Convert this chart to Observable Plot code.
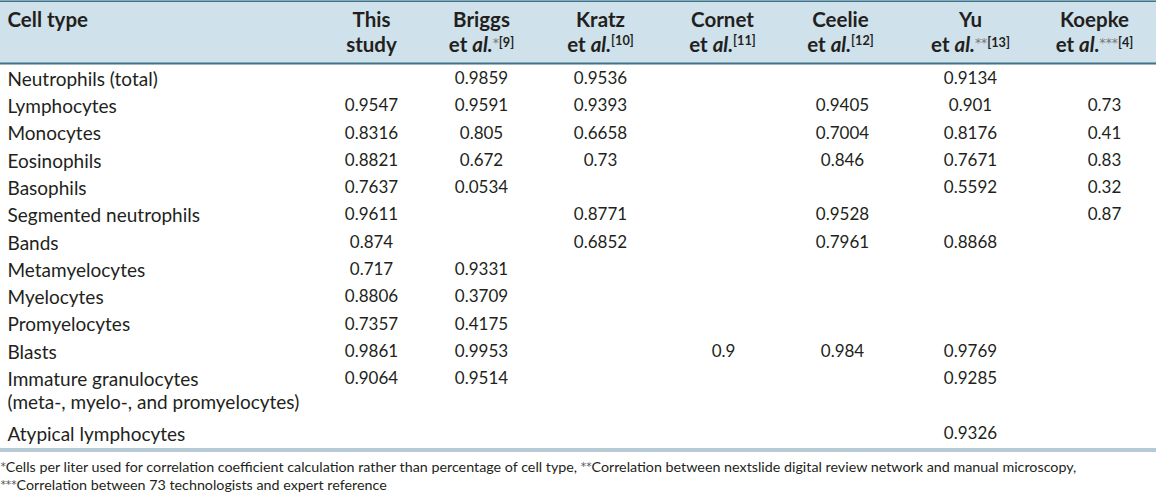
<!DOCTYPE html>
<html><head><meta charset="utf-8">
<script src="https://cdn.jsdelivr.net/npm/d3@7"></script>
<script src="https://cdn.jsdelivr.net/npm/@observablehq/plot@0.6"></script>
<style>body{margin:0;background:#fff} svg{display:block}</style>
</head><body><div id="chart"></div>
<script>
// ---- data ----
const cellTypes = [
  "Neutrophils (total)", "Lymphocytes", "Monocytes", "Eosinophils", "Basophils",
  "Segmented neutrophils", "Bands", "Metamyelocytes", "Myelocytes", "Promyelocytes",
  "Blasts", "Immature granulocytes\n(meta-, myelo-, and promyelocytes)", "Atypical lymphocytes"
];
const thisStudy = [null, 0.9547, 0.8316, 0.8821, 0.7637, 0.9611, 0.874, 0.717, 0.8806, 0.7357, 0.9861, 0.9064, null];
const briggs    = [0.9859, 0.9591, 0.805, 0.672, 0.0534, null, null, 0.9331, 0.3709, 0.4175, 0.9953, 0.9514, null];
const kratz     = [0.9536, 0.9393, 0.6658, 0.73, null, 0.8771, 0.6852, null, null, null, null, null, null];
const cornet    = [null, null, null, null, null, null, null, null, null, null, 0.9, null, null];
const ceelie    = [null, 0.9405, 0.7004, 0.846, null, 0.9528, 0.7961, null, null, null, 0.984, null, null];
const yu        = [0.9134, 0.901, 0.8176, 0.7671, 0.5592, null, 0.8868, null, null, null, 0.9769, 0.9285, 0.9326];
const koepke    = [null, 0.73, 0.41, 0.83, 0.32, 0.87, null, null, null, null, null, null, null];
const series = [thisStudy, briggs, kratz, cornet, ceelie, yu, koepke];

const headerTitle = "Cell type";
const headerLine1 = ["This", "Briggs", "Kratz", "Cornet", "Ceelie", "Yu", "Koepke"];
const headerLine2 = ["study", "et al.", "et al.", "et al.", "et al.", "et al.", "et al."];
const headerMarks = ["", "*", "", "", "", "**", "***"];
const headerRefs  = ["", "[9]", "[10]", "[11]", "[12]", "[13]", "[4]"];

const footnotes = [
  "*Cells per liter used for correlation coefficient calculation rather than percentage of cell type, **Correlation between nextslide digital review network and manual microscopy,",
  "***Correlation between 73 technologists and expert reference"
];

// ---- layout ----
const W = 1156, H = 496;
const colX = [371, 481, 600, 723, 842, 970, 1104];
const headerX = [371, 481, 600, 722, 840, 970, 1094];
const rowStep = 27.3, row0 = 78, lineGap = 22.8;
const rowSlot = [0,1,2,3,4,5,6,7,8,9,10,11,13];
const rowY = rowSlot.map(s => row0 + s * rowStep);
const ink = "#231f20";
const font = "Lato, 'Open Sans', sans-serif";
const starFont = "'DejaVu Sans', sans-serif";

const labelRows = cellTypes.map((t, i) => ({t, y: rowY[i] + (t.split("\n").length - 1) * lineGap / 2}));
const cells = [];
series.forEach((s, j) => s.forEach((v, i) => { if (v != null) cells.push({x: colX[j], y: rowY[i], v}); }));
const hdr1 = headerLine1.map((t, j) => ({t, x: headerX[j]}));
const hdr2 = headerLine2.map((t, j) => ({t, x: headerX[j], mark: headerMarks[j], ref: headerRefs[j]}));

const chart = Plot.plot({
  width: W, height: H,
  margin: 0,
  x: {type: "identity", axis: null},
  y: {type: "identity", axis: null},
  style: {fontFamily: font, color: ink, background: "#fff"},
  marks: [
    Plot.rect([0], {x1: 0, x2: W, y1: 0, y2: 63, fill: "#cfe1eb"}),
    Plot.ruleY([0.75], {stroke: "#3f7388", strokeWidth: 1.5}),
    Plot.ruleY([63], {stroke: "#3f7388", strokeWidth: 2}),
    Plot.ruleY([449.5], {stroke: "#b6cad5", strokeWidth: 4}),
    Plot.text([headerTitle], {x: 7, y: 20, text: d => d, textAnchor: "start", fontSize: 20.5, fontWeight: "bold", fill: ink}),
    Plot.text(hdr1, {x: "x", y: 20, text: "t", textAnchor: "middle", fontSize: 20.5, fontWeight: "bold", fill: ink}),
    Plot.text(hdr2, {x: "x", y: 45, text: "t", textAnchor: "middle", fontSize: 20.5, fontWeight: "bold", fill: ink}),
    Plot.text(labelRows, {x: 7, y: "y", text: "t", textAnchor: "start", fontSize: 19, lineHeight: lineGap / 19, fill: ink}),
    Plot.text(cells, {x: "x", y: "y", text: d => String(d.v), textAnchor: "middle", fontSize: 17, fill: ink}),
    Plot.text(footnotes, {x: 0, y: (d, i) => 467 + i * 18, text: d => d, textAnchor: "start", fontSize: 14.3, fill: ink})
  ]
});
document.getElementById("chart").appendChild(chart);

// rich text: italic "al.", superscript marks and references
const svg = d3.select(chart);
let hk = 0;
svg.selectAll("text").filter(function() { return this.textContent === "et al."; }).each(function() {
  const d = hdr2.filter(h => h.t === "et al.")[hk++];
  const el = d3.select(this);
  el.text(null);
  el.append("tspan").text("et ");
  el.append("tspan").attr("font-style", "italic").text("al.");
  if (d.mark) el.append("tspan").attr("font-family", starFont).attr("font-size", "0.6em").attr("font-weight", "normal").attr("fill", "#777").attr("dy", "-0.45em").text(d.mark);
  const r = el.append("tspan").attr("font-size", "0.62em").text(d.ref);
  if (!d.mark) r.attr("dy", "-0.55em");
});
svg.selectAll("text").filter(function() { return footnotes.includes(this.textContent); }).each(function() {
  const s = this.textContent;
  const el = d3.select(this);
  el.text(null);
  const parts = s.split(/(\*+)/).filter(p => p !== "");
  let raised = false;
  parts.forEach(p => {
    if (/^\*+$/.test(p)) {
      el.append("tspan").attr("font-family", starFont).attr("font-size", "0.75em").attr("dy", "-0.2em").attr("fill", "#555").text(p);
      raised = true;
    } else {
      const t = el.append("tspan").text(p);
      if (raised) { t.attr("dy", "0.15em"); raised = false; }
    }
  });
});
</script>
</body></html>
